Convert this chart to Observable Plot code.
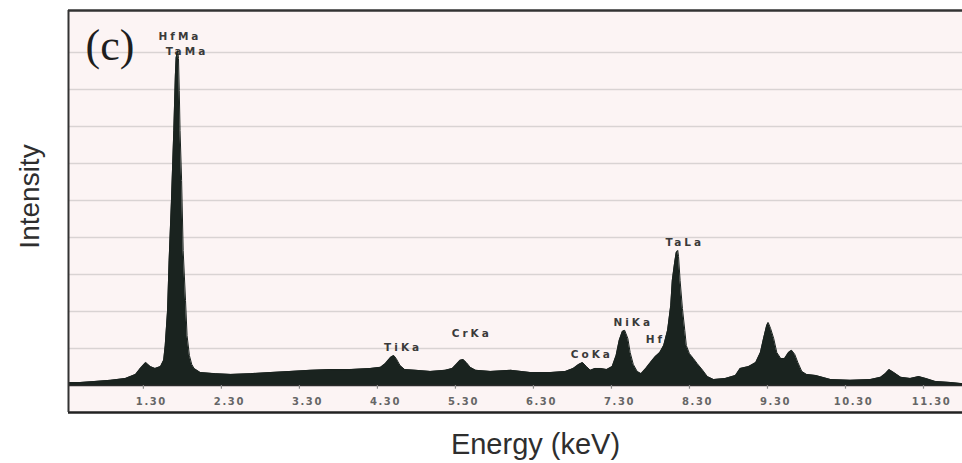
<!DOCTYPE html>
<html>
<head>
<meta charset="utf-8">
<script src="https://cdn.jsdelivr.net/npm/d3@7"></script>
<script src="https://cdn.jsdelivr.net/npm/@observablehq/plot@0.6"></script>
<style>
  html, body { margin: 0; padding: 0; background: #ffffff; }
  #chart { width: 962px; height: 463px; }
  g[aria-description="peaklabels"] text { letter-spacing: 3px; }
  g[aria-description="ticklabels"] text { letter-spacing: 1.6px; }
</style>
</head>
<body>
<div id="chart"></div>
<script>
// Spectrum: energy (keV) and intensity (grid units)
const energy = [0.34,0.49,0.68,0.88,1.07,1.20,1.26,1.33,1.39,1.45,1.52,1.56,1.58,1.61,1.63,1.66,1.69,1.71,1.72,1.74,1.75,1.76,1.77,1.79,1.81,1.84,1.86,1.89,1.92,1.95,2.03,2.22,2.42,2.67,2.93,3.18,3.44,3.70,3.95,4.21,4.34,4.40,4.47,4.51,4.54,4.59,4.65,4.79,4.98,5.17,5.26,5.31,5.36,5.40,5.44,5.49,5.56,5.75,6.01,6.26,6.52,6.71,6.81,6.88,6.93,6.98,7.03,7.09,7.16,7.24,7.31,7.36,7.40,7.44,7.47,7.51,7.54,7.58,7.63,7.68,7.74,7.80,7.86,7.92,7.97,8.02,8.06,8.08,8.11,8.13,8.15,8.16,8.18,8.21,8.24,8.26,8.30,8.35,8.40,8.47,8.53,8.61,8.76,8.89,8.95,9.06,9.15,9.21,9.25,9.29,9.31,9.34,9.38,9.42,9.47,9.52,9.57,9.61,9.65,9.69,9.74,9.80,9.92,10.11,10.36,10.62,10.75,10.81,10.86,10.92,11.01,11.13,11.24,11.33,11.45,11.65,11.80];
const intensity = [0.08,0.08,0.11,0.14,0.19,0.30,0.46,0.62,0.51,0.46,0.51,0.68,1.08,2.03,3.38,5.00,6.89,8.38,8.86,9.05,8.84,7.97,6.89,5.54,3.65,2.30,1.35,0.81,0.57,0.46,0.35,0.32,0.30,0.32,0.35,0.38,0.41,0.43,0.43,0.46,0.49,0.59,0.76,0.81,0.73,0.54,0.43,0.41,0.38,0.41,0.46,0.57,0.68,0.70,0.62,0.49,0.41,0.38,0.41,0.35,0.35,0.38,0.46,0.57,0.62,0.51,0.41,0.46,0.46,0.43,0.51,0.81,1.22,1.46,1.49,1.27,0.89,0.57,0.38,0.32,0.46,0.62,0.78,0.89,1.08,1.49,2.16,2.84,3.32,3.59,3.65,3.49,2.84,2.08,1.49,1.08,0.86,0.73,0.59,0.41,0.24,0.16,0.19,0.27,0.46,0.51,0.62,0.89,1.27,1.62,1.70,1.54,1.27,0.89,0.73,0.73,0.89,0.95,0.84,0.62,0.38,0.30,0.27,0.16,0.14,0.16,0.22,0.32,0.43,0.35,0.22,0.19,0.24,0.19,0.11,0.08,0.05];

// Peak annotations
const peakNames = ["HfMa","TaMa","TiKa","CrKa","CoKa","NiKa","HfLa","TaLa"];
const peakEnergy = [1.75,1.84,4.61,5.49,7.03,7.56,7.74,8.22];
const peakLabelY = [9.43,9.03,1.03,1.41,0.84,1.70,1.24,3.86];
const peakAnchor = ["middle","middle","middle","middle","middle","middle","start","middle"];

// Axis ticks
const tickValues = [1.3,2.3,3.3,4.3,5.3,6.3,7.3,8.3,9.3,10.3,11.3];
const tickLabels = ["1.30","2.30","3.30","4.30","5.30","6.30","7.30","8.30","9.30","10.30","11.30"];
const gridValues = [1,2,3,4,5,6,7,8,9];

const xDomain = [0.34, 11.80];
const yDomain = [-0.73, 10.135];

const spectrum = energy.map((e, i) => ({e, v: intensity[i]}));
const peaks = peakNames.map((n, i) => ({n, e: peakEnergy[i], y: peakLabelY[i], a: peakAnchor[i]}));
const ticks = tickValues.map((t, i) => ({t, s: tickLabels[i]}));

const sans = "Liberation Sans, Arial, sans-serif";
const labelFont = {fontFamily: "DejaVu Sans, sans-serif", fontWeight: "bold", fontSize: 10.5, fill: "#3a3a3a", ariaDescription: "peaklabels"};

const chart = Plot.plot({
  width: 962,
  height: 463,
  marginTop: 10,
  marginLeft: 68,
  marginRight: 0,
  marginBottom: 51,
  style: {background: "#ffffff", overflow: "visible"},
  x: {domain: xDomain, axis: null},
  y: {domain: yDomain, axis: null},
  marks: [
    Plot.frame({fill: "#fcf4f4", stroke: null}),
    Plot.ruleY(gridValues, {stroke: "#d9d3d3", strokeWidth: 1.6}),
    Plot.text(peaks.filter(d => d.a === "start"), {x: "e", y: "y", text: "n", textAnchor: "start", ...labelFont}),
    Plot.text(peaks.filter(d => d.a !== "start"), {x: "e", y: "y", text: "n", dx: 1.5, ...labelFont}),
    Plot.areaY(spectrum, {x: "e", y1: 0, y2: "v", fill: "#1a231f", curve: "linear"}),
    Plot.lineY(spectrum, {x: "e", y: "v", stroke: "#1a231f", strokeWidth: 1}),
    Plot.ruleY([0], {stroke: "#2a2a2a", strokeWidth: 1.6}),
    Plot.ruleX(tickValues, {y1: 0, y2: -0.1, stroke: "#888", strokeWidth: 1.2}),
    Plot.text(ticks, {x: "t", y: -0.43, text: "s", dx: 8, fontFamily: "DejaVu Sans, sans-serif", fontWeight: "bold", fontSize: 10, fill: "#666", ariaDescription: "ticklabels"}),
    Plot.ruleY([yDomain[0]], {stroke: "#222", strokeWidth: 2.6}),
    Plot.ruleY([yDomain[1]], {stroke: "#333", strokeWidth: 2.4}),
    Plot.ruleX([xDomain[0]], {stroke: "#333", strokeWidth: 2}),
    Plot.text(["(c)"], {frameAnchor: "top-left", textAnchor: "start", lineAnchor: "middle", dx: 17, dy: 35, fontFamily: "Liberation Serif, Times New Roman, serif", fontSize: 44, fill: "#1e1e1e"}),
    Plot.text(["Intensity"], {frameAnchor: "left", textAnchor: "middle", lineAnchor: "middle", rotate: -90, dx: -38, dy: -15, fontFamily: sans, fontSize: 28, fill: "#2e2e2e"}),
    Plot.text(["Energy (keV)"], {frameAnchor: "bottom", textAnchor: "middle", lineAnchor: "middle", dx: 20, dy: 32, fontFamily: sans, fontSize: 29, fill: "#2e2e2e"})
  ]
});
document.getElementById("chart").appendChild(chart);
</script>
</body>
</html>
